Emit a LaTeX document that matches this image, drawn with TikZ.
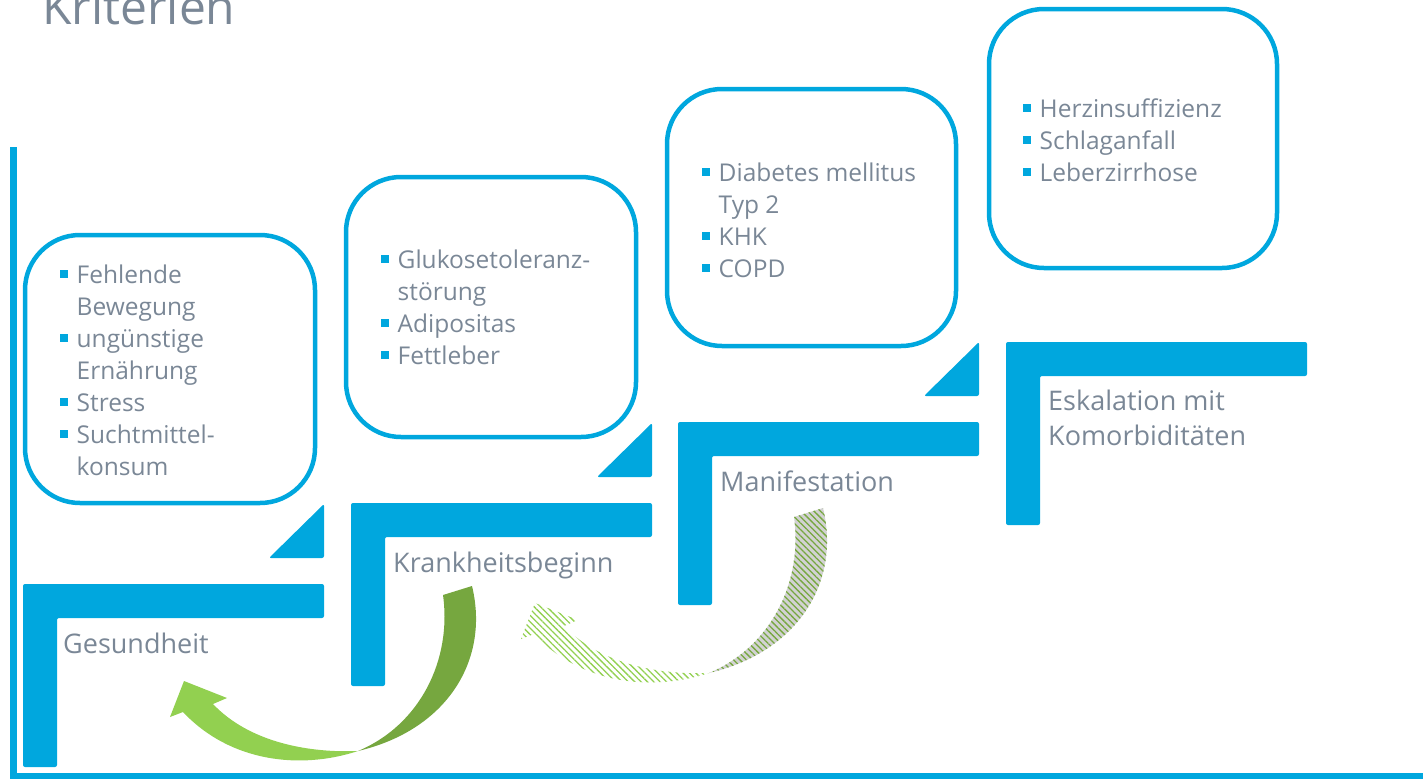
\documentclass[tikz,border=0pt]{standalone}
\usepackage{fontspec}
\setmainfont{Open Sans}
\usetikzlibrary{patterns.meta}
\definecolor{cblue}{RGB}{0,167,222}
\definecolor{cgray}{RGB}{122,135,150}
\definecolor{gdark}{RGB}{118,167,63}
\definecolor{glight}{RGB}{146,208,80}
\definecolor{hgray}{RGB}{210,210,210}
\newcommand{\bl}{\textcolor{cblue}{\rule[5.5pt]{7.5pt}{7.5pt}}}
\tikzset{
  stepshape/.style={fill=cblue, rounded corners=2pt},
  itembox/.style={draw=cblue, line width=4.5pt, rounded corners=55pt, inner sep=0pt},
  listtext/.style={anchor=base west, inner sep=0pt, text=cgray, font=\fontsize{24.5}{32}\selectfont},
  steplabel/.style={anchor=base west, inner sep=0pt, text=cgray, font=\fontsize{27}{35}\selectfont},
  hatchback/.style={pattern={Lines[angle=-45,distance=4.5pt,line width=1.3pt]}, pattern color=gdark},
  hatchfront/.style={pattern={Lines[angle=-45,distance=4.5pt,line width=1.3pt]}, pattern color=glight},
}
\def\darkpart{(443,595) -- (472,586) .. controls (490,660) and (447,730) .. (358,751) .. controls (420,725) and (452,660) .. (443,595) -- cycle}
\def\lightpart{(358,751) .. controls (300,770) and (230,762) .. (183,712) -- (170,717) -- (184,681) -- (227,698) -- (213,704) .. controls (250,743) and (310,753) .. (358,751) -- cycle}
\begin{document}
\begin{tikzpicture}[x=1pt,y=-1pt]
\useasboundingbox (0,0) rectangle (1423,779);
% title
\node[anchor=base west, inner sep=0pt, text=cgray, font=\fontsize{48}{56}\selectfont] (title) at (42,24) {Kriterien};
% axes
\fill[cblue] (10,147) rectangle (17,779);
\fill[cblue] (10,773) rectangle (1423,779);
% steps
\foreach \X/\Y in {23/584, 351/503, 678/422, 1006/342}{
  \fill[stepshape] (\X,\Y) -- ({\X+301},\Y) -- ({\X+301},{\Y+34}) -- ({\X+34},{\Y+34}) -- ({\X+34},{\Y+183}) -- (\X,{\Y+183}) -- cycle;
}
\foreach \X/\Y in {23/584, 351/503, 678/422}{
  \fill[stepshape] ({\X+301},{\Y-80}) -- ({\X+301},{\Y-26}) -- ({\X+246},{\Y-26}) -- cycle;
}
% step labels
\node[steplabel] (s1) at (63,653) {Gesundheit};
\node[steplabel] (s2) at (393,572) {Krankheitsbeginn};
\node[steplabel] (s3) at (720,491) {Manifestation};
\node[steplabel] (s4) at (1048,410) {\begin{tabular}[t]{@{}l@{}}Eskalation mit\\Komorbiditäten\end{tabular}};
% boxes
\node[itembox, minimum width=290pt, minimum height=268pt] (b1) at (170,369) {};
\node[itembox, minimum width=290pt, minimum height=260pt] (b2) at (491,307) {};
\node[itembox, minimum width=289pt, minimum height=257pt] (b3) at (811.5,217.5) {};
\node[itembox, minimum width=288pt, minimum height=259pt] (b4) at (1133,138.5) {};
\node[listtext] (t1) at (60,283) {\begin{tabular}[t]{@{}l@{\hspace{9pt}}l@{}}
\bl & Fehlende\\ & Bewegung\\ \bl & ungünstige\\ & Ernährung\\ \bl & Stress\\ \bl & Suchtmittel-\\ & konsum\end{tabular}};
\node[listtext] (t2) at (381,268) {\begin{tabular}[t]{@{}l@{\hspace{9pt}}l@{}}
\bl & Glukosetoleranz-\\ & störung\\ \bl & Adipositas\\ \bl & Fettleber\end{tabular}};
\node[listtext] (t3) at (702,181) {\begin{tabular}[t]{@{}l@{\hspace{9pt}}l@{}}
\bl & Diabetes mellitus\\ & Typ 2\\ \bl & KHK\\ \bl & COPD\end{tabular}};
\node[listtext] (t4) at (1023,117) {\begin{tabular}[t]{@{}l@{\hspace{9pt}}l@{}}
\bl & Herzinsuffizienz\\ \bl & Schlaganfall\\ \bl & Leberzirrhose\end{tabular}};
% green curved arrow
\fill[gdark] \darkpart;
\fill[glight] \lightpart;
% hatched curved arrow
\begin{scope}[shift={(351,-78)}]
  \fill[hgray] \darkpart;
  \fill[hatchback] \darkpart;
  \fill[hatchfront] \lightpart;
\end{scope}
\end{tikzpicture}
\end{document}
